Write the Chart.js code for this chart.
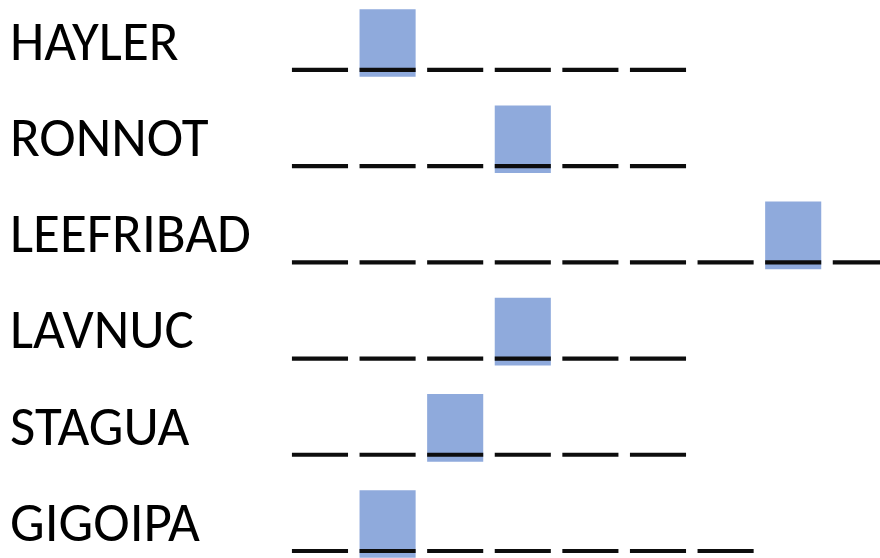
<!DOCTYPE html>
<html>
<head>
<meta charset="utf-8">
<script src="https://cdn.jsdelivr.net/npm/chart.js@4.4.1/dist/chart.umd.min.js"></script>
<style>
  html, body { margin: 0; padding: 0; background: #fff; }
  #wrap { width: 880px; height: 558px; }
</style>
</head>
<body>
<div id="wrap"><canvas id="puzzle" width="880" height="558"></canvas></div>
<script>
// scrambled words, how many blanks each answer has, and which blank is boxed (0-based)
const words = ['HAYLER', 'RONNOT', 'LEEFRIBAD', 'LAVNUC', 'STAGUA', 'GIGOIPA'];
const blankCounts = [6, 6, 9, 6, 6, 7];
const boxedBlank = [1, 3, 7, 3, 2, 1];

const HALF = 0.41;          // half width of a blank, in column units
const UNDERLINE_DROP = 0.28; // blank line sits a bit below the row centre

const dashes = [];
const boxes = [];
words.forEach((w, r) => {
    for (let c = 0; c < blankCounts[r]; c++) {
        dashes.push({ y: r + UNDERLINE_DROP, x: [c - HALF, c + HALF] });
    }
    boxes.push({ y: r, x: [boxedBlank[r] - HALF, boxedBlank[r] + HALF] });
});

function drawPuzzle(){
    const ctx = document.getElementById('puzzle').getContext('2d');
    new Chart(ctx, {
        type: 'bar',
        data: {
            datasets: [
                {
                    label: 'blanks',
                    data: dashes,
                    backgroundColor: '#0d0d0d',
                    borderWidth: 0,
                    barThickness: 3.5,
                    grouped: false,
                    order: 0
                },
                {
                    label: 'box',
                    data: boxes,
                    backgroundColor: '#8faadc',
                    borderWidth: 0,
                    barThickness: 67,
                    grouped: false,
                    order: 1
                }
            ]
        },
        options: {
            indexAxis: 'y',
            responsive: false,
            animation: false,
            events: [],
            layout: { padding: { left: 10, right: 0, top: 0, bottom: 0 } },
            scales: {
                x: {
                    type: 'linear',
                    display: false,
                    min: -0.621,
                    max: 8.284
                },
                y: {
                    type: 'linear',
                    reverse: true,
                    offset: false,
                    min: -0.447,
                    max: 5.353,
                    grid: { display: false, offset: false },
                    border: { display: false },
                    afterBuildTicks: (scale) => { scale.ticks = words.map((w, i) => ({ value: i })); },
                    afterFit: (scale) => {
                        scale.width = 268;
                        // words never reach the top/bottom edge, so no extra room is needed
                        scale.paddingTop = 0;
                        scale.paddingBottom = 0;
                    },
                    ticks: {
                        crossAlign: 'far',
                        labelOffset: 3,
                        color: '#000',
                        font: { family: 'Carlito, Calibri, Lato, sans-serif', size: 55 },
                        callback: (v) => words[v]
                    }
                }
            },
            plugins: {
                legend: { display: false },
                tooltip: { enabled: false }
            }
        }
    });
}
window.addEventListener('DOMContentLoaded', drawPuzzle)
</script>
</body>
</html>
